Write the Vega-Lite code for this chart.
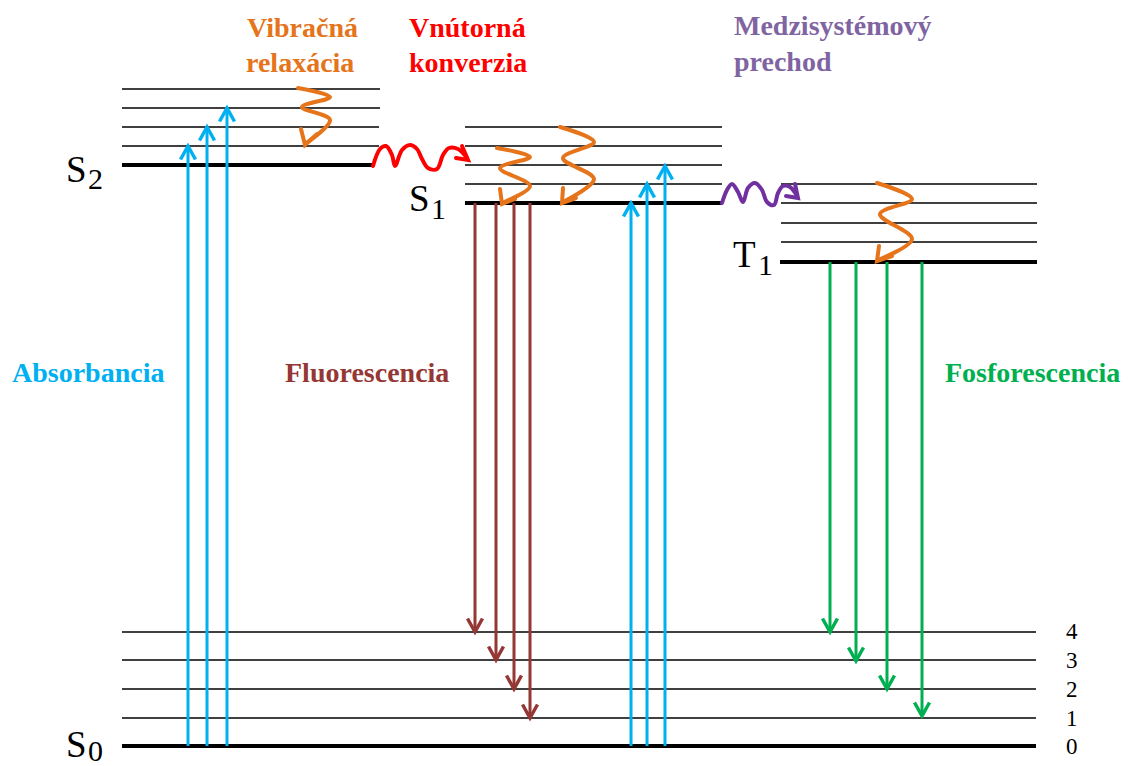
{
  "$schema": "https://vega.github.io/schema/vega-lite/v6.json",
  "width": 1129,
  "height": 766,
  "autosize": "none",
  "padding": 0,
  "background": "white",
  "config": {"view": {"stroke": null}},
  "datasets": {
    "levels": [
      {"state": "S0", "x1": 122, "x2": 1036, "y": 746, "kind": "base"},
      {"state": "S0", "x1": 122, "x2": 1036, "y": 718, "kind": "vib"},
      {"state": "S0", "x1": 122, "x2": 1036, "y": 689, "kind": "vib"},
      {"state": "S0", "x1": 122, "x2": 1036, "y": 660, "kind": "vib"},
      {"state": "S0", "x1": 122, "x2": 1036, "y": 632, "kind": "vib"},
      {"state": "S2", "x1": 122, "x2": 374, "y": 165, "kind": "base"},
      {"state": "S2", "x1": 122, "x2": 379, "y": 146, "kind": "vib"},
      {"state": "S2", "x1": 122, "x2": 379, "y": 127, "kind": "vib"},
      {"state": "S2", "x1": 122, "x2": 380, "y": 108, "kind": "vib"},
      {"state": "S2", "x1": 122, "x2": 380, "y": 89, "kind": "vib"},
      {"state": "S1", "x1": 465, "x2": 722, "y": 203, "kind": "base"},
      {"state": "S1", "x1": 465, "x2": 722, "y": 184, "kind": "vib"},
      {"state": "S1", "x1": 465, "x2": 722, "y": 165, "kind": "vib"},
      {"state": "S1", "x1": 465, "x2": 722, "y": 146, "kind": "vib"},
      {"state": "S1", "x1": 465, "x2": 722, "y": 127, "kind": "vib"},
      {"state": "T1", "x1": 780, "x2": 1037, "y": 262, "kind": "base"},
      {"state": "T1", "x1": 781, "x2": 1037, "y": 242, "kind": "vib"},
      {"state": "T1", "x1": 781, "x2": 1037, "y": 223, "kind": "vib"},
      {"state": "T1", "x1": 781, "x2": 1037, "y": 203, "kind": "vib"},
      {"state": "T1", "x1": 781, "x2": 1037, "y": 184, "kind": "vib"}
    ],
    "arrows": [
      {"proc": "abs", "x": 188, "y1": 746, "y2": 146, "dir": "up"},
      {"proc": "abs", "x": 207, "y1": 746, "y2": 127, "dir": "up"},
      {"proc": "abs", "x": 227, "y1": 746, "y2": 108, "dir": "up"},
      {"proc": "abs", "x": 631, "y1": 746, "y2": 203, "dir": "up"},
      {"proc": "abs", "x": 647, "y1": 746, "y2": 184, "dir": "up"},
      {"proc": "abs", "x": 665, "y1": 746, "y2": 166, "dir": "up"},
      {"proc": "fluo", "x": 475, "y1": 203, "y2": 632, "dir": "down"},
      {"proc": "fluo", "x": 496, "y1": 203, "y2": 660, "dir": "down"},
      {"proc": "fluo", "x": 514, "y1": 203, "y2": 689, "dir": "down"},
      {"proc": "fluo", "x": 530, "y1": 203, "y2": 718, "dir": "down"},
      {"proc": "phos", "x": 830, "y1": 262, "y2": 632, "dir": "down"},
      {"proc": "phos", "x": 856, "y1": 262, "y2": 661, "dir": "down"},
      {"proc": "phos", "x": 887, "y1": 262, "y2": 689, "dir": "down"},
      {"proc": "phos", "x": 922, "y1": 262, "y2": 716, "dir": "down"}
    ],
    "waves": [
      {"id": "ic", "proc": "ic", "o": 1, "x": 373, "y": 166},
      {"id": "ic", "proc": "ic", "o": 2, "x": 380, "y": 149},
      {"id": "ic", "proc": "ic", "o": 3, "x": 386, "y": 146},
      {"id": "ic", "proc": "ic", "o": 4, "x": 392, "y": 155},
      {"id": "ic", "proc": "ic", "o": 5, "x": 395, "y": 166},
      {"id": "ic", "proc": "ic", "o": 6, "x": 402, "y": 150},
      {"id": "ic", "proc": "ic", "o": 7, "x": 410, "y": 145},
      {"id": "ic", "proc": "ic", "o": 8, "x": 417, "y": 149},
      {"id": "ic", "proc": "ic", "o": 9, "x": 422, "y": 159},
      {"id": "ic", "proc": "ic", "o": 10, "x": 428, "y": 168},
      {"id": "ic", "proc": "ic", "o": 11, "x": 437, "y": 169},
      {"id": "ic", "proc": "ic", "o": 12, "x": 443, "y": 155},
      {"id": "ic", "proc": "ic", "o": 13, "x": 449, "y": 148},
      {"id": "ic", "proc": "ic", "o": 14, "x": 458, "y": 149},
      {"id": "ic", "proc": "ic", "o": 15, "x": 467, "y": 158},
      {"id": "isc", "proc": "isc", "o": 1, "x": 722, "y": 203},
      {"id": "isc", "proc": "isc", "o": 2, "x": 727, "y": 190},
      {"id": "isc", "proc": "isc", "o": 3, "x": 732, "y": 184},
      {"id": "isc", "proc": "isc", "o": 4, "x": 738, "y": 192},
      {"id": "isc", "proc": "isc", "o": 5, "x": 743, "y": 202},
      {"id": "isc", "proc": "isc", "o": 6, "x": 748, "y": 188},
      {"id": "isc", "proc": "isc", "o": 7, "x": 755, "y": 183},
      {"id": "isc", "proc": "isc", "o": 8, "x": 762, "y": 190},
      {"id": "isc", "proc": "isc", "o": 9, "x": 767, "y": 202},
      {"id": "isc", "proc": "isc", "o": 10, "x": 774, "y": 205},
      {"id": "isc", "proc": "isc", "o": 11, "x": 778, "y": 193},
      {"id": "isc", "proc": "isc", "o": 12, "x": 783, "y": 186},
      {"id": "isc", "proc": "isc", "o": 13, "x": 790, "y": 187},
      {"id": "isc", "proc": "isc", "o": 14, "x": 797, "y": 196},
      {"id": "v1", "proc": "vib", "o": 1, "x": 298, "y": 88},
      {"id": "v1", "proc": "vib", "o": 2, "x": 330, "y": 97},
      {"id": "v1", "proc": "vib", "o": 3, "x": 302, "y": 107},
      {"id": "v1", "proc": "vib", "o": 4, "x": 330, "y": 120},
      {"id": "v1", "proc": "vib", "o": 5, "x": 305, "y": 144},
      {"id": "v2", "proc": "vib", "o": 1, "x": 497, "y": 148},
      {"id": "v2", "proc": "vib", "o": 2, "x": 530, "y": 157},
      {"id": "v2", "proc": "vib", "o": 3, "x": 500, "y": 168},
      {"id": "v2", "proc": "vib", "o": 4, "x": 530, "y": 186},
      {"id": "v2", "proc": "vib", "o": 5, "x": 502, "y": 203},
      {"id": "v3", "proc": "vib", "o": 1, "x": 560, "y": 127},
      {"id": "v3", "proc": "vib", "o": 2, "x": 594, "y": 142},
      {"id": "v3", "proc": "vib", "o": 3, "x": 563, "y": 158},
      {"id": "v3", "proc": "vib", "o": 4, "x": 594, "y": 179},
      {"id": "v3", "proc": "vib", "o": 5, "x": 563, "y": 202},
      {"id": "v4", "proc": "vib", "o": 1, "x": 877, "y": 183},
      {"id": "v4", "proc": "vib", "o": 2, "x": 912, "y": 199},
      {"id": "v4", "proc": "vib", "o": 3, "x": 880, "y": 214},
      {"id": "v4", "proc": "vib", "o": 4, "x": 912, "y": 239},
      {"id": "v4", "proc": "vib", "o": 5, "x": 878, "y": 260}
    ],
    "heads": [
      {"id": "ic", "proc": "ic", "o": 1, "x": 462, "y": 146},
      {"id": "ic", "proc": "ic", "o": 2, "x": 468, "y": 160},
      {"id": "ic", "proc": "ic", "o": 3, "x": 456, "y": 158},
      {"id": "isc", "proc": "isc", "o": 1, "x": 795, "y": 184},
      {"id": "isc", "proc": "isc", "o": 2, "x": 798, "y": 198},
      {"id": "isc", "proc": "isc", "o": 3, "x": 786, "y": 196},
      {"id": "v1", "proc": "vib", "o": 1, "x": 301, "y": 129},
      {"id": "v1", "proc": "vib", "o": 2, "x": 305, "y": 145},
      {"id": "v1", "proc": "vib", "o": 3, "x": 317, "y": 134},
      {"id": "v2", "proc": "vib", "o": 1, "x": 500, "y": 189},
      {"id": "v2", "proc": "vib", "o": 2, "x": 502, "y": 204},
      {"id": "v2", "proc": "vib", "o": 3, "x": 515, "y": 199},
      {"id": "v3", "proc": "vib", "o": 1, "x": 563, "y": 188},
      {"id": "v3", "proc": "vib", "o": 2, "x": 562, "y": 203},
      {"id": "v3", "proc": "vib", "o": 3, "x": 576, "y": 198},
      {"id": "v4", "proc": "vib", "o": 1, "x": 879, "y": 246},
      {"id": "v4", "proc": "vib", "o": 2, "x": 877, "y": 261},
      {"id": "v4", "proc": "vib", "o": 3, "x": 892, "y": 256}
    ],
    "proclabels": [
      {"text": "Vibračná", "proc": "vib", "x": 247, "y": 37},
      {"text": "relaxácia", "proc": "vib", "x": 246, "y": 72},
      {"text": "Vnútorná", "proc": "ic", "x": 409, "y": 37},
      {"text": "konverzia", "proc": "ic", "x": 409, "y": 72},
      {"text": "Medzisystémový", "proc": "isct", "x": 734, "y": 35},
      {"text": "prechod", "proc": "isct", "x": 734, "y": 71},
      {"text": "Absorbancia", "proc": "abs", "x": 12, "y": 382},
      {"text": "Fluorescencia", "proc": "fluo", "x": 285, "y": 382},
      {"text": "Fosforescencia", "proc": "phos", "x": 945, "y": 382}
    ],
    "statelabels": [
      {"text": "S", "role": "big", "x": 66, "y": 182},
      {"text": "2", "role": "sub", "x": 88, "y": 189},
      {"text": "S", "role": "big", "x": 409, "y": 211},
      {"text": "1", "role": "sub", "x": 431, "y": 219},
      {"text": "S", "role": "big", "x": 66, "y": 757},
      {"text": "0", "role": "sub", "x": 88, "y": 761},
      {"text": "T", "role": "big", "x": 733, "y": 267},
      {"text": "1", "role": "sub", "x": 758, "y": 275},
      {"text": "4", "role": "num", "x": 1066, "y": 639},
      {"text": "3", "role": "num", "x": 1066, "y": 668},
      {"text": "2", "role": "num", "x": 1066, "y": 697},
      {"text": "1", "role": "num", "x": 1066, "y": 726},
      {"text": "0", "role": "num", "x": 1066, "y": 754}
    ]
  },
  "layer": [
    {
      "data": {"name": "levels"},
      "mark": {"type": "rule", "color": "#000000"},
      "encoding": {
        "x": {"field": "x1", "type": "quantitative", "scale": {"domain": [0, 1129], "nice": false, "zero": false}, "axis": null},
        "x2": {"field": "x2"},
        "y": {"field": "y", "type": "quantitative", "scale": {"domain": [0, 766], "nice": false, "zero": false, "reverse": true}, "axis": null},
        "strokeWidth": {"field": "kind", "type": "nominal", "scale": {"domain": ["base", "vib"], "range": [4, 1.3]}, "legend": null}
      }
    },
    {
      "data": {"name": "arrows"},
      "mark": {"type": "rule", "strokeWidth": 3},
      "encoding": {
        "x": {"field": "x", "type": "quantitative", "scale": {"domain": [0, 1129], "nice": false, "zero": false}, "axis": null},
        "y": {"field": "y1", "type": "quantitative", "scale": {"domain": [0, 766], "nice": false, "zero": false, "reverse": true}, "axis": null},
        "y2": {"field": "y2"},
        "color": {"field": "proc", "type": "nominal", "scale": {"domain": ["abs", "fluo", "phos", "vib", "ic", "isc", "isct"], "range": ["#00B0F0", "#953735", "#00B050", "#E5741A", "#FF0000", "#7030A0", "#8064A2"]}, "legend": null}
      }
    },
    {
      "data": {"name": "arrows"},
      "mark": {"type": "point", "filled": false, "size": 900, "strokeWidth": 3.5, "opacity": 1, "strokeJoin": "miter"},
      "encoding": {
        "x": {"field": "x", "type": "quantitative", "scale": {"domain": [0, 1129], "nice": false, "zero": false}, "axis": null},
        "y": {"field": "y2", "type": "quantitative", "scale": {"domain": [0, 766], "nice": false, "zero": false, "reverse": true}, "axis": null},
        "shape": {"field": "dir", "type": "nominal", "scale": {"domain": ["up", "down"], "range": ["M-0.5,0.9L0,0L0.5,0.9", "M-0.5,-0.9L0,0L0.5,-0.9"]}, "legend": null},
        "color": {"field": "proc", "type": "nominal", "scale": {"domain": ["abs", "fluo", "phos", "vib", "ic", "isc", "isct"], "range": ["#00B0F0", "#953735", "#00B050", "#E5741A", "#FF0000", "#7030A0", "#8064A2"]}, "legend": null}
      }
    },
    {
      "data": {"name": "waves"},
      "mark": {"type": "line", "strokeWidth": 4, "interpolate": "catmull-rom", "strokeCap": "round", "strokeJoin": "round"},
      "encoding": {
        "x": {"field": "x", "type": "quantitative", "scale": {"domain": [0, 1129], "nice": false, "zero": false}, "axis": null},
        "y": {"field": "y", "type": "quantitative", "scale": {"domain": [0, 766], "nice": false, "zero": false, "reverse": true}, "axis": null},
        "detail": {"field": "id", "type": "nominal"},
        "order": {"field": "o", "type": "quantitative"},
        "color": {"field": "proc", "type": "nominal", "scale": {"domain": ["abs", "fluo", "phos", "vib", "ic", "isc", "isct"], "range": ["#00B0F0", "#953735", "#00B050", "#E5741A", "#FF0000", "#7030A0", "#8064A2"]}, "legend": null}
      }
    },
    {
      "data": {"name": "heads"},
      "mark": {"type": "line", "strokeWidth": 4, "strokeCap": "round", "strokeJoin": "miter"},
      "encoding": {
        "x": {"field": "x", "type": "quantitative", "scale": {"domain": [0, 1129], "nice": false, "zero": false}, "axis": null},
        "y": {"field": "y", "type": "quantitative", "scale": {"domain": [0, 766], "nice": false, "zero": false, "reverse": true}, "axis": null},
        "detail": {"field": "id", "type": "nominal"},
        "order": {"field": "o", "type": "quantitative"},
        "color": {"field": "proc", "type": "nominal", "scale": {"domain": ["abs", "fluo", "phos", "vib", "ic", "isc", "isct"], "range": ["#00B0F0", "#953735", "#00B050", "#E5741A", "#FF0000", "#7030A0", "#8064A2"]}, "legend": null}
      }
    },
    {
      "data": {"name": "proclabels"},
      "mark": {"type": "text", "font": "Liberation Serif", "fontWeight": "bold", "fontSize": 28, "align": "left", "baseline": "alphabetic"},
      "encoding": {
        "x": {"field": "x", "type": "quantitative", "scale": {"domain": [0, 1129], "nice": false, "zero": false}, "axis": null},
        "y": {"field": "y", "type": "quantitative", "scale": {"domain": [0, 766], "nice": false, "zero": false, "reverse": true}, "axis": null},
        "text": {"field": "text"},
        "color": {"field": "proc", "type": "nominal", "scale": {"domain": ["abs", "fluo", "phos", "vib", "ic", "isc", "isct"], "range": ["#00B0F0", "#953735", "#00B050", "#E5741A", "#FF0000", "#7030A0", "#8064A2"]}, "legend": null}
      }
    },
    {
      "data": {"name": "statelabels"},
      "mark": {"type": "text", "font": "Liberation Serif", "align": "left", "baseline": "alphabetic", "color": "#000000"},
      "encoding": {
        "x": {"field": "x", "type": "quantitative", "scale": {"domain": [0, 1129], "nice": false, "zero": false}, "axis": null},
        "y": {"field": "y", "type": "quantitative", "scale": {"domain": [0, 766], "nice": false, "zero": false, "reverse": true}, "axis": null},
        "text": {"field": "text"},
        "size": {"field": "role", "type": "nominal", "scale": {"domain": ["big", "sub", "num"], "range": [37, 23, 19]}, "legend": null}
      }
    }
  ]
}
